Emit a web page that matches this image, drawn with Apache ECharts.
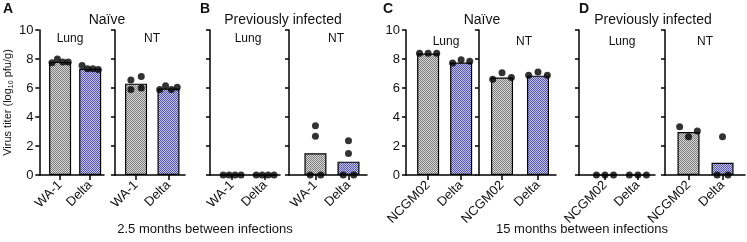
<!DOCTYPE html>
<html>
<head>
<meta charset="utf-8">
<script src="https://cdn.jsdelivr.net/npm/echarts@6/dist/echarts.min.js"></script>
<style>
html,body{margin:0;padding:0;background:#fff;}
#chart{width:747px;height:242px;}
</style>
</head>
<body>
<div id="chart"></div>
<script>
var strainsAB = ['WA-1', 'Delta'];
var strainsCD = ['NCGM02', 'Delta'];
var yTicks = [0, 2, 4, 6, 8, 10];

// individual animals, [first strain, Delta]
var aLungPts = [[7.75, 8.0, 7.8, 7.8], [7.56, 7.33, 7.33, 7.27]];
var aLungBars = [7.8, 7.33];
var aNtPts = [[6.55, 5.9, 6.8, 6.0], [5.9, 6.15, 5.9, 6.05]];
var aNtBars = [6.3, 5.97];

var bLungPts = [[0, 0, 0, 0], [0, 0, 0, 0]];
var bLungBars = [0, 0];
var bNtPts = [[0, 2.67, 3.39, 0], [0, 1.48, 2.37, 0]];
var bNtBars = [1.5, 0.92];

var cLungPts = [[8.4, 8.4, 8.4], [7.72, 7.95, 7.84]];
var cLungBars = [8.38, 7.75];
var cNtPts = [[6.6, 7.06, 6.72], [6.88, 7.1, 6.88]];
var cNtBars = [6.72, 6.85];

var dLungPts = [[0, 0, 0], [0, 0, 0]];
var dLungBars = [0, 0];
var dNtPts = [[3.32, 2.63, 3.04], [0, 2.63, 0]];
var dNtBars = [2.97, 0.85];

var FONT = "'Liberation Sans', Arial, sans-serif";

function checker(a, b){
	var c = document.createElement('canvas');
	c.width = 2; c.height = 2;
	var ctx = c.getContext('2d');
	ctx.fillStyle = a; ctx.fillRect(0, 0, 2, 2);
	ctx.fillStyle = b; ctx.fillRect(0, 0, 1, 1); ctx.fillRect(1, 1, 1, 1);
	return {image: c, repeat: 'repeat'};
}
var fills = [checker('#dadada', '#7a7a7a'), checker('#c2c2ec', '#5656b0')];

// spread dots with close values side by side
function swarm(vals, ci){
	var idx = vals.map(function(v, i){ return i; }).sort(function(a, b){ return vals[a] - vals[b]; });
	var groups = [], cur = [idx[0]];
	for (var k = 1; k < idx.length; k++) {
		if (vals[idx[k]] - vals[idx[k - 1]] < 0.45) cur.push(idx[k]);
		else { groups.push(cur); cur = [idx[k]]; }
	}
	groups.push(cur);
	var out = [];
	groups.forEach(function(g){
		g.sort(function(a, b){ return a - b; });
		var n = g.length;
		var sp = n >= 4 ? 0.18 : (n === 3 ? 0.26 : 0.32);
		g.forEach(function(p, j){ out.push([ci + (j - (n - 1) / 2) * sp, vals[p]]); });
	});
	return out;
}

var panels = [
	{cats: strainsAB, pts: aLungPts, bars: aLungBars, left: 32, width: 72, xMin: -0.69, xMax: 1.46, labels: true},
	{cats: strainsAB, pts: aNtPts, bars: aNtBars, left: 115, width: 70, xMin: -0.65, xMax: 1.51},
	{cats: strainsAB, pts: bLungPts, bars: bLungBars, left: 210, width: 70, xMin: -0.67, xMax: 1.45},
	{cats: strainsAB, pts: bNtPts, bars: bNtBars, left: 289, width: 78, xMin: -0.8, xMax: 1.56},
	{cats: strainsCD, pts: cLungPts, bars: cLungBars, left: 406, width: 70, xMin: -0.67, xMax: 1.45, labels: true},
	{cats: strainsCD, pts: cNtPts, bars: cNtBars, left: 479, width: 77, xMin: -0.64, xMax: 1.5},
	{cats: strainsCD, pts: dLungPts, bars: dLungBars, left: 579, width: 76, xMin: -0.79, xMax: 1.52},
	{cats: strainsCD, pts: dNtPts, bars: dNtBars, left: 665, width: 80, xMin: -0.69, xMax: 1.66}
];

var grid = [], xAxis = [], yAxis = [], series = [];
panels.forEach(function(p, i){
	grid.push({left: p.left, width: p.width, top: 30, height: 145, containLabel: false});
	xAxis.push({
		type: 'value', gridIndex: i, min: p.xMin, max: p.xMax,
		splitLine: {show: false},
		axisLine: {show: true, onZero: false, lineStyle: {color: '#000', width: 1.5}},
		axisTick: {show: true, length: 5, customValues: [0, 1], lineStyle: {color: '#000', width: 1.5}},
		axisLabel: {
			show: true, customValues: [0, 1], rotate: 45, margin: 8,
			fontFamily: FONT, fontSize: 13, color: '#111',
			formatter: (function(cats){ return function(v){ return cats[Math.round(v)]; }; })(p.cats)
		}
	});
	var ya = {
		type: 'value', gridIndex: i, min: yTicks[0], max: yTicks[yTicks.length - 1], interval: yTicks[1] - yTicks[0],
		splitLine: {show: false},
		axisLine: {show: true, onZero: false, lineStyle: {color: '#000', width: 1.5}},
		axisTick: {show: true, length: 4, lineStyle: {color: '#000', width: 1.5}},
		axisLabel: {show: !!p.labels, margin: 6, fontFamily: FONT, fontSize: 13, color: '#111'}
	};
	if (i === 0) {
		ya.name = 'Virus titer (log{s|10} pfu/g)';
		ya.nameLocation = 'middle';
		ya.nameGap = 23;
		ya.nameRotate = 90;
		ya.nameTextStyle = {
			fontFamily: FONT, fontSize: 11, color: '#111', lineHeight: 14,
			rich: {s: {fontFamily: FONT, fontSize: 7, lineHeight: 14, verticalAlign: 'bottom', color: '#111'}}
		};
	}
	yAxis.push(ya);
	series.push({
		type: 'bar', xAxisIndex: i, yAxisIndex: i, barWidth: 22, silent: true,
		itemStyle: {borderColor: '#000', borderWidth: 1.2},
		data: p.bars.map(function(v, j){ return {value: [j, v], itemStyle: {color: fills[j]}}; })
	});
	series.push({
		type: 'scatter', xAxisIndex: i, yAxisIndex: i, symbolSize: 7, z: 5, silent: true,
		itemStyle: {color: '#000'},
		data: swarm(p.pts[0], 0).concat(swarm(p.pts[1], 1))
	});
});

function txt(t, x, y, size, bold){
	return {type: 'text', x: x, y: y, style: {text: t, x: 0, y: 0, fill: '#111', font: (bold ? 'bold ' : '') + size + 'px ' + FONT, align: 'center', textAlign: 'center', verticalAlign: 'top', textVerticalAlign: 'top'}};
}

var graphic = [
	txt('A', 8, 2, 14, true), txt('B', 205, 2, 14, true), txt('C', 388, 2, 14, true), txt('D', 584, 2, 14, true),
	txt('Naïve', 107, 13, 14), txt('Previously infected', 283, 13, 14),
	txt('Naïve', 482, 13, 14), txt('Previously infected', 653, 13, 14),
	txt('Lung', 70, 33, 12), txt('NT', 152, 33, 12), txt('Lung', 248, 33, 12), txt('NT', 336, 33, 12),
	txt('Lung', 446, 36, 12), txt('NT', 524, 36, 12), txt('Lung', 622, 36, 12), txt('NT', 705, 36, 12),
	txt('2.5 months between infections', 205, 223, 13), txt('15 months between infections', 582, 223, 13)
];

var chart = echarts.init(document.getElementById('chart'));
chart.setOption({
	animation: false,
	grid: grid,
	xAxis: xAxis,
	yAxis: yAxis,
	series: series,
	graphic: graphic
});
</script>
</body>
</html>
